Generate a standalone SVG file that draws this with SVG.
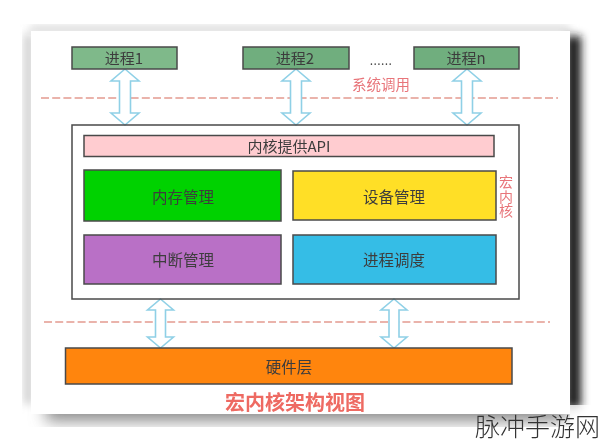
<svg xmlns="http://www.w3.org/2000/svg" width="600" height="445" viewBox="0 0 600 445">
<defs>
<filter id="b6" x="-20%" y="-20%" width="140%" height="140%"><feGaussianBlur stdDeviation="8"/></filter>
<filter id="b3" x="-100%" y="-20%" width="300%" height="140%"><feGaussianBlur stdDeviation="4"/></filter>
<filter id="b2" x="-20%" y="-20%" width="140%" height="140%"><feGaussianBlur stdDeviation="4"/></filter>
<filter id="s" x="-5%" y="-5%" width="110%" height="110%"><feGaussianBlur stdDeviation="0.55"/></filter>
<path id="a1" d="M0 0L14 12H5.500V44H14L0 56L-14 44H-5.500V12H-14Z"/>
<path id="a2" d="M0 0L13 11H5V38H13L0 49L-13 38H-5V11H-13Z"/>
</defs>
<style>
.n{stroke:#4a4a4a;stroke-width:1.500}
.t{font-family:"Noto Sans CJK SC","Liberation Sans",sans-serif;font-size:15px;text-anchor:middle;fill:#3c3c3c}
.r{fill:#e8757a}
.d{fill:none;stroke:#e39a90;stroke-width:1.500;stroke-dasharray:8 3.200}
.a{fill:#fff;stroke:#8fd0e6;stroke-width:1.600;stroke-linejoin:miter}
</style>
<rect width="600" height="445" fill="#fff"/>
<g id="page">
<rect x="46" y="395" width="520" height="26" fill="#8a8a8a" filter="url(#b6)"/>
<rect x="24" y="34" width="9" height="370" fill="#cfcfcf" filter="url(#b2)"/>
<rect x="30" y="26" width="540" height="7" fill="#d5d5d5" filter="url(#b2)"/>
<rect x="566" y="36" width="15" height="372" fill="#1d1d1d" filter="url(#b3)"/>
<rect x="31" y="31" width="539" height="383" fill="#fff"/>
<rect x="570" y="405" width="30" height="40" fill="#fff" opacity=".8"/>
</g>
<g id="connectors" filter="url(#s)">
<line class="d" x1="41" y1="98" x2="558" y2="98"/>
<line class="d" x1="44" y1="322" x2="550" y2="322"/>
<use href="#a1" class="a" x="125" y="69"/>
<use href="#a1" class="a" x="296" y="69"/>
<use href="#a1" class="a" x="467" y="69"/>
<use href="#a2" class="a" x="160.500" y="299"/>
<use href="#a2" class="a" x="394" y="299"/>
</g>
<g filter="url(#s)">
<g id="p1"><rect class="n" x="72" y="47" width="105" height="22" fill="#7fb98a"/><text class="t" x="124" y="64">进程1</text></g>
<g id="p2"><rect class="n" x="243" y="47" width="106" height="22" fill="#6fae7e"/><text class="t" x="295" y="64">进程2</text></g>
<text class="t" x="381" y="65" style="font-size:12px;letter-spacing:.4px">......</text>
<g id="pn"><rect class="n" x="414" y="47" width="105" height="22" fill="#6fae7e"/><text class="t" x="466" y="64">进程n</text></g>
<text class="t r" x="381" y="90" style="font-size:14.500px">系统调用</text>
<g id="kernel"><rect class="n" x="72" y="125" width="447" height="174" fill="none"/></g>
<g id="api"><rect class="n" x="84" y="135.500" width="410" height="21" fill="#ffccd0"/><text class="t" x="289" y="151.500">内核提供API</text></g>
<g id="mem"><rect class="n" x="84" y="170" width="197" height="51" fill="#00d200"/><text class="t" style="font-size:15.500px" x="183" y="202.500">内存管理</text></g>
<g id="dev"><rect class="n" x="293" y="171" width="203" height="49" fill="#ffdf26"/><text class="t" style="font-size:15.500px" x="394" y="202.500">设备管理</text></g>
<g id="irq"><rect class="n" x="84" y="235" width="197" height="49" fill="#b96fc6"/><text class="t" style="font-size:15.500px" x="183" y="265.500">中断管理</text></g>
<g id="sched"><rect class="n" x="293" y="235" width="203" height="49" fill="#36bde6"/><text class="t" style="font-size:15.500px" x="394" y="265.500">进程调度</text></g>
<g id="hw"><rect class="n" x="65.500" y="348" width="446.500" height="36" fill="#ff8511"/><text class="t" x="289" y="372.500" style="font-size:15.500px">硬件层</text></g>
<text class="t r" style="font-size:14px"><tspan x="506" y="187">宏</tspan><tspan x="506" y="201.500">内</tspan><tspan x="506" y="216">核</tspan></text>
<text class="t r" x="295" y="410" style="font-size:20px;font-weight:700;fill:#ee6a62">宏内核架构视图</text>
</g>
<text id="mark" x="475" y="436" style="font-family:'Noto Sans CJK SC',sans-serif;font-size:25px;fill:#333;font-weight:300">脉冲手游网</text>
</svg>
